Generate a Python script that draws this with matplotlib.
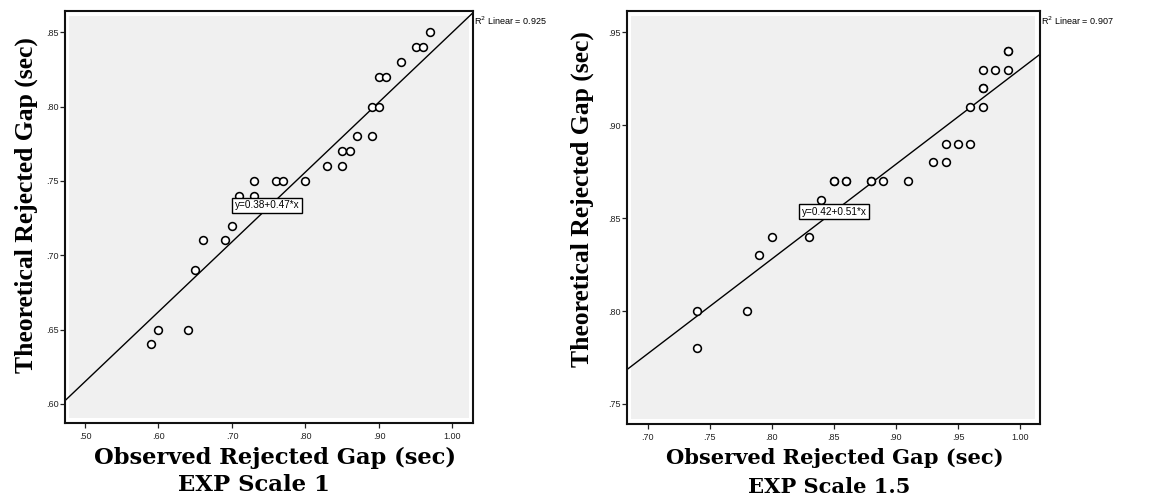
import numpy as np
import matplotlib
matplotlib.use("Agg")
import matplotlib.pyplot as plt
from matplotlib.patches import Rectangle
from matplotlib.ticker import FixedLocator, FuncFormatter

# ---- data -------------------------------------------------------------
# EXP scale 1: observed vs theoretical rejected gap (sec)
obs_scale1 = [0.97, 0.95, 0.96, 0.93, 0.90, 0.91, 0.89, 0.90, 0.87, 0.89,
              0.85, 0.86, 0.83, 0.85, 0.73, 0.76, 0.77, 0.80, 0.71, 0.73,
              0.70, 0.66, 0.69, 0.65, 0.60, 0.64, 0.59]
theo_scale1 = [0.85, 0.84, 0.84, 0.83, 0.82, 0.82, 0.80, 0.80, 0.78, 0.78,
               0.77, 0.77, 0.76, 0.76, 0.75, 0.75, 0.75, 0.75, 0.74, 0.74,
               0.72, 0.71, 0.71, 0.69, 0.65, 0.65, 0.64]
fit1_intercept, fit1_slope, fit1_r2 = 0.38, 0.47, 0.925

# EXP scale 1.5
obs_scale15 = [0.99, 0.99, 0.97, 0.98, 0.99, 0.97, 0.97, 0.96, 0.97,
               0.94, 0.95, 0.96, 0.93, 0.94,
               0.85, 0.85, 0.86, 0.86, 0.88, 0.88, 0.89, 0.91,
               0.84, 0.80, 0.83, 0.79, 0.74, 0.78, 0.74]
theo_scale15 = [0.94, 0.94, 0.93, 0.93, 0.93, 0.92, 0.92, 0.91, 0.91,
                0.89, 0.89, 0.89, 0.88, 0.88,
                0.87, 0.87, 0.87, 0.87, 0.87, 0.87, 0.87, 0.87,
                0.86, 0.84, 0.84, 0.83, 0.80, 0.80, 0.78]
fit15_intercept, fit15_slope, fit15_r2 = 0.42, 0.51, 0.907

x_ticks1 = [0.50, 0.60, 0.70, 0.80, 0.90, 1.00]
y_ticks1 = [0.60, 0.65, 0.70, 0.75, 0.80, 0.85]
x_ticks15 = [0.70, 0.75, 0.80, 0.85, 0.90, 0.95, 1.00]
y_ticks15 = [0.75, 0.80, 0.85, 0.90, 0.95]

x_title = "Observed Rejected Gap (sec)"
y_title = "Theoretical Rejected Gap (sec)"
scale_titles = ["EXP Scale 1", "EXP Scale 1.5"]

# ---- figure -----------------------------------------------------------
W, H = 1161, 500
fig = plt.figure(figsize=(W / 100, H / 100), dpi=100)
fig.patch.set_facecolor("white")


def fx(x):
    return x / W


def fy(y):
    return 1 - y / H


def tick_fmt(v, _pos):
    s = f"{v:.2f}"
    return s[1:] if s.startswith("0") else s


def panel(rect, xs, ys, b0, b1, r2, xlim, ylim, xticks, yticks, eq_xy, r2_px):
    ax = fig.add_axes(rect)
    ax.set_facecolor("white")
    ax.add_patch(Rectangle((0.011, 0.011), 0.978, 0.978, transform=ax.transAxes,
                           facecolor="#f0f0f0", edgecolor="none", zorder=0))
    xx = np.array(xlim)
    ax.plot(xx, b0 + b1 * xx, color="black", lw=1.0, zorder=2)
    ax.plot(xs, ys, "o", ms=5.6, mfc="white", mec="black", mew=1.15,
            ls="none", zorder=3)
    ax.set_xlim(*xlim)
    ax.set_ylim(*ylim)
    ax.xaxis.set_major_locator(FixedLocator(xticks))
    ax.yaxis.set_major_locator(FixedLocator(yticks))
    ax.xaxis.set_major_formatter(FuncFormatter(tick_fmt))
    ax.yaxis.set_major_formatter(FuncFormatter(tick_fmt))
    for s in ax.spines.values():
        s.set_linewidth(1.5)
        s.set_color("#111111")
    ax.tick_params(axis="both", length=3.5, width=0.9, labelsize=6.5,
                   colors="#222222")
    ax.tick_params(axis="y", pad=1.0)
    ax.tick_params(axis="x", pad=3.0)
    for lab in ax.get_xticklabels() + ax.get_yticklabels():
        lab.set_fontfamily("Liberation Sans")
    ax.text(eq_xy[0], eq_xy[1], f"y={b0:.2f}+{b1:.2f}*x", ha="center",
            va="center", fontsize=7.2, family="Liberation Sans", zorder=4,
            bbox=dict(boxstyle="square,pad=0.28", fc="white", ec="black", lw=1.0))
    fig.text(fx(r2_px[0]), fy(r2_px[1]), f"R$^2$ Linear = {r2:.3f}",
             ha="left", va="center", fontsize=6.5, family="Liberation Sans")
    return ax


panel([fx(65), fy(423), fx(473) - fx(65), fy(11) - fy(423)],
      obs_scale1, theo_scale1, fit1_intercept, fit1_slope, fit1_r2,
      (0.4728, 1.028), (0.5872, 0.8643), x_ticks1, y_ticks1,
      (0.7476, 0.7336), (474, 20.7))

panel([fx(626.7), fy(424), fx(1040) - fx(626.7), fy(11) - fy(424)],
      obs_scale15, theo_scale15, fit15_intercept, fit15_slope, fit15_r2,
      (0.6831, 1.0161), (0.7392, 0.9615), x_ticks15, y_ticks15,
      (0.8503, 0.8535), (1041, 20.7))

renderer = fig.canvas.get_renderer()


def fit_length(t, length_px, vertical=False):
    for _ in range(3):
        bb = t.get_window_extent(renderer=renderer)
        cur = bb.height if vertical else bb.width
        t.set_fontsize(t.get_fontsize() * length_px / cur)


# axis titles
for cx, base, width, txt in [(275.5, 464, 361, x_title),
                             (254, 491, 152, scale_titles[0]),
                             (835, 464, 337, x_title),
                             (829, 493, 162, scale_titles[1])]:
    t = fig.text(fx(cx), fy(base), txt, ha="center", va="baseline",
                 fontsize=15, fontweight="bold", family="DejaVu Serif")
    fit_length(t, width)

for cx, cy, length in [(26.5, 205, 336), (582.5, 199.5, 335)]:
    t = fig.text(fx(cx), fy(cy), y_title, ha="center", va="center",
                 rotation=90, fontsize=18, fontweight="bold",
                 family="Liberation Serif")
    fit_length(t, length, vertical=True)

fig.savefig("out.png", dpi=100, facecolor="white")
